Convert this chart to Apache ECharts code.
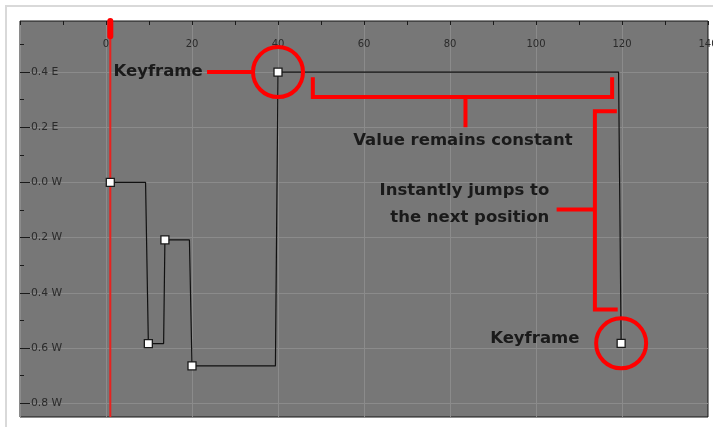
<!DOCTYPE html>
<html>
<head>
<meta charset="utf-8">
<script src="https://cdn.jsdelivr.net/npm/echarts@6/dist/echarts.min.js"></script>
<style>
html,body{margin:0;padding:0;background:#fff;}
#chart{width:713px;height:427px;}
</style>
</head>
<body>
<div id="chart"></div>
<script>
// ---- data ----
const curveFrames = [1, 9.2, 9.85, 13.4, 13.7, 19.4, 20, 39.4, 40, 119.2, 119.8];
const curveValues = [0, 0, -0.584, -0.584, -0.2085, -0.2085, -0.665, -0.665, 0.4, 0.4, -0.583];
const keyFrames = [1, 9.85, 13.7, 20, 40, 119.8];
const keyValues = [0, -0.584, -0.2085, -0.665, 0.4, -0.583];
const highlightKeys = [4, 5];           // indices of circled keyframes
const playheadFrame = 1;

const xMajorTicks = [-20, 0, 20, 40, 60, 80, 100, 120, 140];
const xLabelValues = [0, 20, 40, 60, 80, 100, 120, 140];
const xMinorTicks = [-10, 10, 30, 50, 70, 90, 110, 130];
const yMajorTicks = [-0.8, -0.6, -0.4, -0.2, 0, 0.2, 0.4];
const yTickLabels = ['0.8 W', '0.6 W', '0.4 W', '0.2 W', '0.0 W', '0.2 E', '0.4 E'];
const yMinorTicks = [-0.7, -0.5, -0.3, -0.1, 0.1, 0.3, 0.5];

const annotationTexts = ['Keyframe', 'Value remains constant', 'Instantly jumps to', 'the next position', 'Keyframe'];
// annotation anchors in data coordinates [frame, value, align]
const annotationAnchors = [[22.5, 0.4, 'right'], [83.0, 0.150, 'center'], [103.1, -0.031, 'right'], [103.1, -0.129, 'right'], [110.1, -0.5646, 'right']];
// red bracket polylines in data coordinates
const bracketConstant = [[48.1, 0.381], [48.1, 0.31], [117.7, 0.31], [117.7, 0.381]];
const bracketConstantTick = [[83.6, 0.31], [83.6, 0.2]];
const bracketJump = [[118.8, 0.258], [113.7, 0.258], [113.7, -0.46], [119.0, -0.46]];
const bracketJumpTick = [[113.7, -0.098], [104.8, -0.098]];
const keyLeader = [[23.5, 0.4], [33.9, 0.4]];

const xMin = -20, xMax = 140, yMin = -0.85, yMax = 0.585;

const chart = echarts.init(document.getElementById('chart'), null, {renderer: 'canvas'});
const zip = (a, b) => a.map((v, i) => [v, b[i]]);

const redLine = (data) => ({
  type: 'line', data: data, symbol: 'none', silent: true, z: 6,
  lineStyle: {color: '#ff0000', width: 4, cap: 'butt', join: 'miter'}, animation: false
});

const labelFont = 'DejaVu Sans';
const option = {
  animation: false,
  backgroundColor: '#ffffff',
  grid: {left: 20, right: 5, top: 21, bottom: 10, outerBoundsMode: 'none', containLabel: false,
         show: true, backgroundColor: '#777777', borderColor: '#141414', borderWidth: 1},
  xAxis: [
    {type: 'value', position: 'top', min: xMin, max: xMax,
     axisLine: {show: false, onZero: false},
     axisTick: {show: true, inside: true, length: 4, lineStyle: {color: '#1a1a1a'}, customValues: xMajorTicks},
     axisLabel: {show: true, inside: true, margin: 18, customValues: xLabelValues, color: '#2a2a2a', fontFamily: labelFont, fontSize: 10},
     splitLine: {show: true, lineStyle: {color: '#8b8b8b', width: 1}}},
    {type: 'value', position: 'top', min: xMin, max: xMax,
     axisLine: {show: false, onZero: false},
     axisTick: {show: true, inside: true, length: 4, lineStyle: {color: '#1a1a1a'}, customValues: xMinorTicks},
     axisLabel: {show: false}, splitLine: {show: false}}
  ],
  yAxis: [
    {type: 'value', position: 'left', min: yMin, max: yMax,
     axisLine: {show: false, onZero: false},
     axisTick: {show: true, inside: true, length: 10, lineStyle: {color: '#1a1a1a'}, customValues: yMajorTicks},
     axisLabel: {show: true, inside: true, margin: 11, customValues: yMajorTicks, color: '#2a2a2a', fontFamily: labelFont, fontSize: 10.8,
       formatter: (v) => { const i = yMajorTicks.findIndex(t => Math.abs(t - v) < 1e-6); return i >= 0 ? yTickLabels[i] : ''; }},
     splitLine: {show: true, lineStyle: {color: '#8b8b8b', width: 1}}},
    {type: 'value', position: 'left', min: yMin, max: yMax,
     axisLine: {show: false, onZero: false},
     axisTick: {show: true, inside: true, length: 4, lineStyle: {color: '#1a1a1a'}, customValues: yMinorTicks},
     axisLabel: {show: false}, splitLine: {show: false}}
  ],
  series: [
    {type: 'line', data: [[playheadFrame, yMax], [playheadFrame, yMin]], symbol: 'none', z: 2,
     lineStyle: {color: '#e8221f', width: 2}},
    {type: 'line', data: [[playheadFrame, yMax], [playheadFrame, 0.53]], symbol: 'none', z: 2,
     lineStyle: {color: '#ff0000', width: 6, cap: 'round'}},
    {type: 'line', data: zip(curveFrames, curveValues), symbol: 'none', z: 3,
     lineStyle: {color: '#111111', width: 1.2}},
    {type: 'scatter', data: zip(keyFrames, keyValues), symbol: 'rect', symbolSize: 8, z: 5,
     itemStyle: {color: '#ffffff', borderColor: '#1a1a1a', borderWidth: 1.3, opacity: 1}},
    {type: 'scatter', data: highlightKeys.map(i => [keyFrames[i], keyValues[i]]), symbol: 'circle', symbolSize: 50, z: 6,
     itemStyle: {color: 'rgba(0,0,0,0)', borderColor: '#ff0000', borderWidth: 4, opacity: 1}},
    redLine(bracketConstant),
    redLine(bracketConstantTick),
    redLine(bracketJump),
    redLine(bracketJumpTick),
    redLine(keyLeader)
  ]
};
chart.setOption(option);

const graphics = [{
  type: 'rect', silent: true, z: -10,
  shape: {x: 6, y: 6, width: 800, height: 600},
  style: {fill: 'none', stroke: '#d9d9d9', lineWidth: 2}
}];
annotationTexts.forEach((t, i) => {
  const a = annotationAnchors[i];
  const p = chart.convertToPixel({gridIndex: 0}, [a[0], a[1]]);
  graphics.push({
    type: 'text', silent: true, z: 10, x: p[0], y: p[1],
    style: {text: t, fill: '#1a1a1a', font: 'bold 16.5px "DejaVu Sans"', align: a[2], verticalAlign: 'middle'}
  });
});
chart.setOption({graphic: graphics});
</script>
</body>
</html>
